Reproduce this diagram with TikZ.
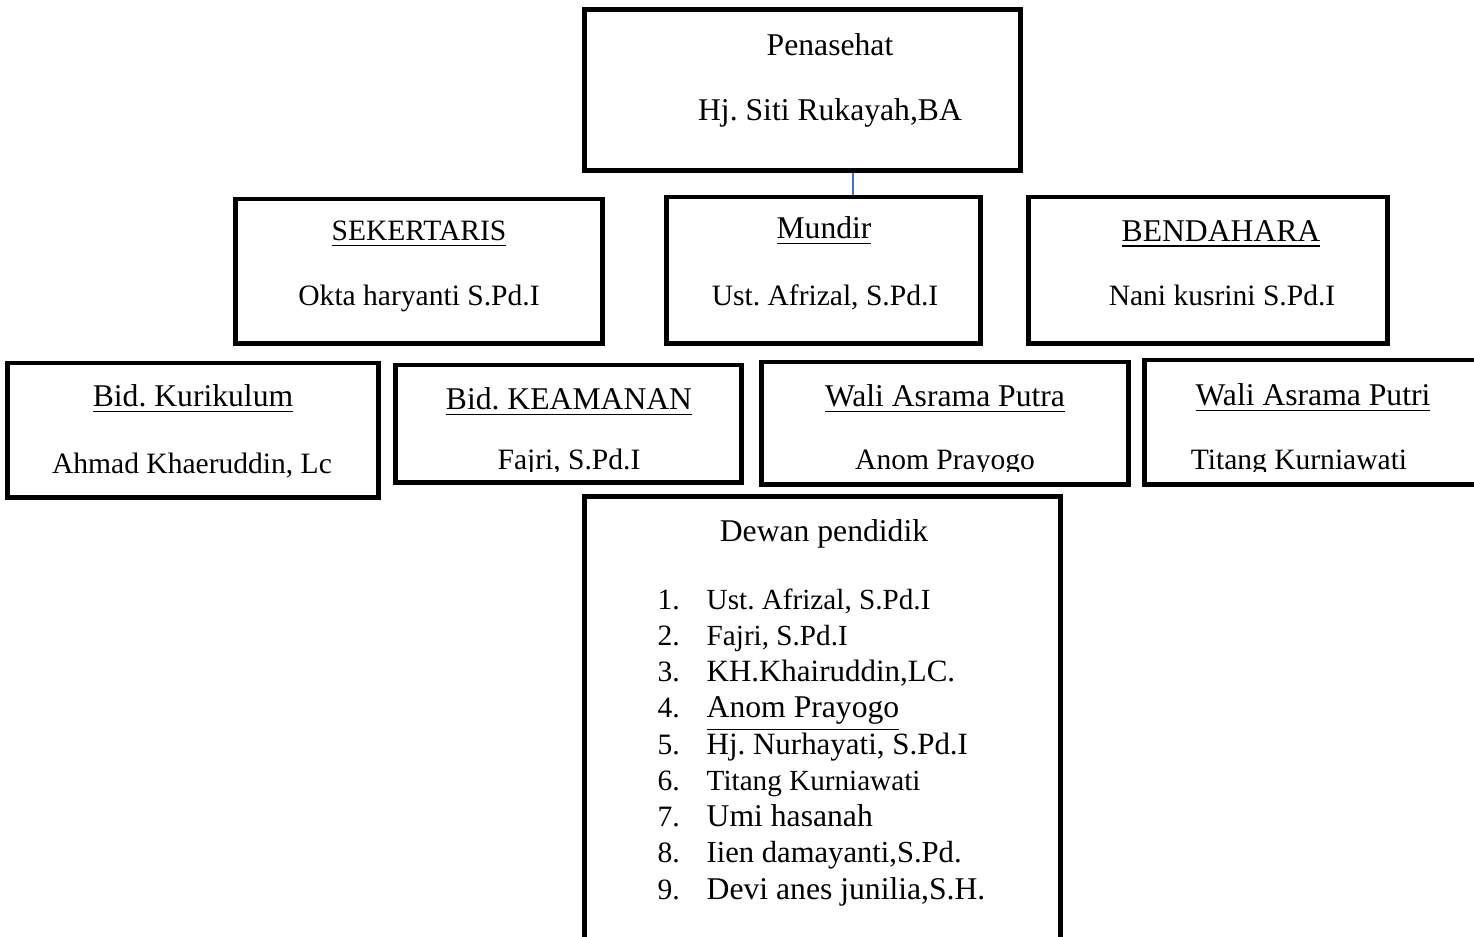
\documentclass[tikz,border=0pt]{standalone}
\usepackage{fontspec}
\setmainfont{Liberation Serif}
\usetikzlibrary{positioning}
\definecolor{garisbiru}{RGB}{68,114,196}
\frenchspacing

\begin{document}
\begin{tikzpicture}[x=0.01cm, y=-0.01cm,
  kotak/.style={draw, line width=1.4pt, rectangle, inner sep=0pt},
  judul/.style={anchor=base, font=\fontsize{9}{10}\selectfont, inner sep=0pt},
  nama/.style={anchor=base, font=\fontsize{8.4}{10}\selectfont, inner sep=0pt},
  garis/.style={draw=garisbiru, line width=0.5pt}]
  \useasboundingbox (0,0) rectangle (1474,936);

  % Penasehat
  \node[kotak, minimum width=4.35cm, minimum height=1.60cm] (pen) at (802.5,90) {};
  \node[judul] (penJ) at (830,55) {Penasehat};
  \node[judul] (penN) at (830,120) {Hj. Siti Rukayah,BA};

  % Baris 2
  \node[kotak, minimum width=3.66cm, minimum height=1.44cm] (sek) at (419,271) {};
  \node[judul, font=\fontsize{8.4}{10}\selectfont] (sekJ) at (419,240) {\underline{SEKERTARIS}};
  \node[nama] (sekN) at (419,305) {Okta haryanti S.Pd.I};

  \node[kotak, minimum width=3.13cm, minimum height=1.46cm] (mun) at (823.5,270) {};
  \node[judul] (munJ) at (824,238) {\underline{Mundir}};
  \node[nama] (munN) at (825,305) {Ust. Afrizal, S.Pd.I};

  \node[kotak, minimum width=3.58cm, minimum height=1.46cm] (ben) at (1208,270) {};
  \node[judul] (benJ) at (1221,241) {\underline{BENDAHARA}};
  \node[nama] (benN) at (1222,305) {Nani kusrini S.Pd.I};

  \draw[garis] ([xshift=0.505cm]pen.south) -- ([xshift=0.505cm]pen.south |- mun.north);

  % Baris 3
  \node[kotak, minimum width=3.70cm, minimum height=1.34cm] (kur) at (193,430) {};
  \node[judul] (kurJ) at (193,406) {\underline{Bid. Kurikulum}};
  \node[nama] (kurN) at (192,473) {Ahmad Khaeruddin, Lc};

  \node[kotak, minimum width=3.45cm, minimum height=1.17cm] (kea) at (568.5,423.5) {};
  \node[judul] (keaJ) at (569,409) {\underline{Bid. KEAMANAN}};

  \node[kotak, minimum width=3.66cm, minimum height=1.22cm] (pta) at (945,423) {};
  \node[judul] (ptaJ) at (945,406) {\underline{Wali Asrama Putra}};

  \node[kotak, minimum width=3.55cm, minimum height=1.24cm] (pti) at (1322.5,422) {};
  \node[judul] (ptiJ) at (1313,405) {\underline{Wali Asrama Putri}};

  \begin{scope}
    \clip (0,0) rectangle (1474,471);
    \node[nama] (keaN) at (569,469) {Fajri, S.Pd.I};
    \node[nama] (ptaN) at (945,469) {Anom Prayogo};
    \node[nama] (ptiN) at (1299,469) {Titang Kurniawati};
  \end{scope}

  % Dewan pendidik
  \node[kotak, minimum width=4.75cm, minimum height=4.73cm] (dew) at (822.5,733.5) {};
  \node[judul] (dewJ) at (824,541) {Dewan pendidik};
  \foreach \n/\s/\t in {1/8.3/{Ust. Afrizal, S.Pd.I}, 2/8.3/{Fajri, S.Pd.I},
      3/8.8/{KH.Khairuddin,LC.}, 4/9/{\underline{Anom Prayogo}},
      5/8.8/{Hj. Nurhayati, S.Pd.I}, 6/8.3/{Titang Kurniawati},
      7/9/{Umi hasanah}, 8/8.7/{Iien damayanti,S.Pd.}, 9/9/{Devi anes junilia,S.H.}}
  {
    \node[nama, anchor=base west] (no\n) at (657,{609+36.25*(\n-1)}) {\n.};
    \node[nama, anchor=base west, font=\fontsize{\s}{10}\selectfont] (d\n) at (706,{609+36.25*(\n-1)}) {\t};
  }
\end{tikzpicture}
\end{document}
